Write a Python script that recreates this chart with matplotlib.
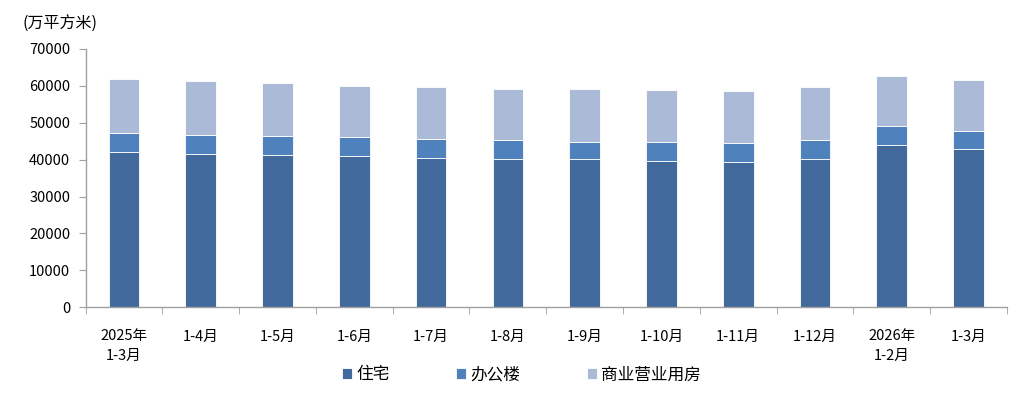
import matplotlib
matplotlib.use("Agg")
import matplotlib.pyplot as plt
import numpy as np

plt.rcParams['font.family'] = ['Noto Sans CJK SC', 'DejaVu Sans']

categories = ["2025年\n1-3月", "1-4月", "1-5月", "1-6月", "1-7月", "1-8月", "1-9月",
              "1-10月", "1-11月", "1-12月", "2026年\n1-2月", "1-3月"]
residential = [42000, 41550, 41190, 40920, 40380, 40110, 40110, 39730, 39300, 40110, 43900, 42820]
office = [5150, 5150, 5230, 5150, 5310, 5230, 4770, 5150, 5230, 5230, 5150, 5040]
commercial = [14800, 14550, 14370, 13990, 13930, 13900, 14360, 13930, 14010, 14360, 13630, 13660]
series_names = ["住宅", "办公楼", "商业营业用房"]
colors = ["#41699C", "#4F81BD", "#AABAD7"]

fig = plt.figure(figsize=(10.16, 3.98), dpi=100)
ax = fig.add_axes([0.0843, 0.228, 0.9067, 0.649])

x = np.arange(len(categories))
res = np.array(residential)
off = np.array(office)
com = np.array(commercial)
w = 0.4
ax.bar(x, res, width=w, color=colors[0], edgecolor="white", linewidth=0.6, label=series_names[0])
ax.bar(x, off, width=w, bottom=res, color=colors[1], edgecolor="white", linewidth=0.6, label=series_names[1])
ax.bar(x, com, width=w, bottom=res + off, color=colors[2], edgecolor="white", linewidth=0.6, label=series_names[2])

ax.set_xlim(-0.5, len(categories) - 0.5)
ax.set_ylim(0, 70000)
ax.set_yticks(np.arange(0, 70001, 10000))
ax.set_yticklabels([str(v) for v in range(0, 70001, 10000)], fontsize=10.5)
ax.set_xticks(x)
ax.set_xticklabels(categories, fontsize=10.5, linespacing=1.45)
ax.set_xticks(np.arange(-0.5, len(categories), 1), minor=True)
ax.tick_params(axis='x', which='major', length=0, pad=16)
ax.tick_params(axis='x', which='minor', length=5, color="#A0A0A0", direction='out')
ax.tick_params(axis='y', length=5, color="#A0A0A0", direction='out', pad=6)

for s in ["top", "right"]:
    ax.spines[s].set_visible(False)
for s in ["left", "bottom"]:
    ax.spines[s].set_color("#A0A0A0")
    ax.spines[s].set_linewidth(1.0)

fig.text(0.022, 0.94, "(万平方米)", fontsize=11.5, ha="left", va="center")

leg = fig.legend(loc="center", bbox_to_anchor=(0.513, 0.058), ncol=3, frameon=False,
                 fontsize=12, handlelength=0.6, handleheight=0.6, handletextpad=0.25,
                 columnspacing=4.0)

fig.savefig("out.png", dpi=100)
